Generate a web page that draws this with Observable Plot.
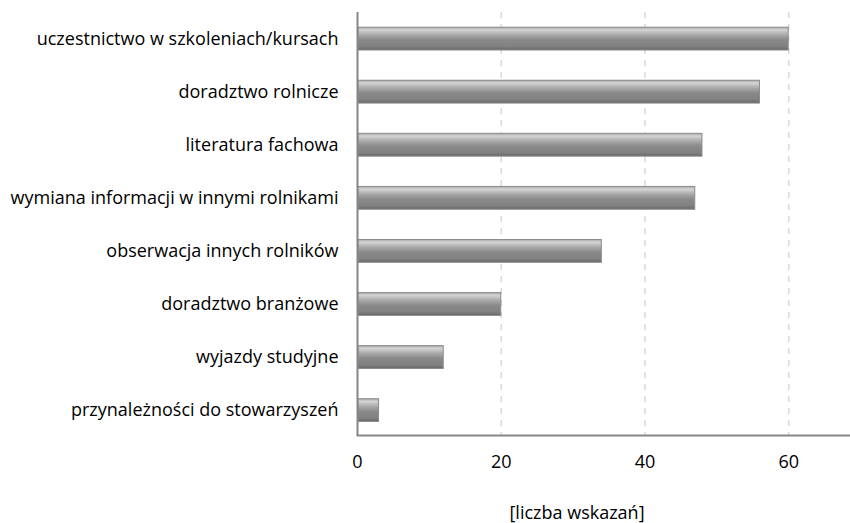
<!DOCTYPE html>
<html>
<head>
<meta charset="utf-8">
<script src="https://cdn.jsdelivr.net/npm/d3@7"></script>
<script src="https://cdn.jsdelivr.net/npm/@observablehq/plot@0.6"></script>
<style>
  html, body { margin: 0; padding: 0; background: #fff; }
  #wrap { position: relative; width: 850px; height: 523px; overflow: hidden; }
  #xlabel { position: absolute; left: 577px; top: 499px; transform: translateX(-50%);
    font-family: "Open Sans", sans-serif; font-size: 18px; line-height: 26px; color: #000; white-space: nowrap; }
</style>
</head>
<body>
<div id="wrap"><div id="xlabel"></div></div>
<script>
const categories = [
  "uczestnictwo w szkoleniach/kursach",
  "doradztwo rolnicze",
  "literatura fachowa",
  "wymiana informacji w innymi rolnikami",
  "obserwacja innych rolników",
  "doradztwo branżowe",
  "wyjazdy studyjne",
  "przynależności do stowarzyszeń"
];
const values = [60, 56, 48, 47, 34, 20, 12, 3];
const xTicks = [0, 20, 40, 60];
const xTitle = "[liczba wskazań]";

const data = categories.map((c, i) => ({category: c, value: values[i]}));

const chart = Plot.plot({
  width: 850,
  height: 523,
  marginTop: 12,
  marginBottom: 88,
  marginLeft: 357,
  marginRight: 0,
  style: {fontFamily: "Open Sans, sans-serif", fontSize: "18px", color: "#000", background: "#fff"},
  x: {domain: [0, 68.6], label: null},
  y: {domain: categories, label: null, round: false, paddingInner: 0.57, paddingOuter: 0.27, align: 0.53},
  marks: [
    Plot.ruleX(xTicks.filter(d => d > 0), {stroke: "#d9d9d9", strokeWidth: 1.5, strokeDasharray: "6,6"}),
    Plot.barX(data, {x: "value", y: "category", fill: "url(#barGrad)", stroke: "#8c8c8c", strokeWidth: 1, insetLeft: 1}),
    Plot.axisX({ticks: xTicks, tickSize: 0, tickPadding: 20, label: null, fontSize: 18, tickFormat: d => String(d)}),
    Plot.axisY({tickSize: 0, tickPadding: 19, label: null, fontSize: 18}),
    Plot.ruleX([0], {stroke: "#868686", strokeWidth: 2}),
    Plot.frame({anchor: "bottom", stroke: "#868686", strokeWidth: 2})
  ]
});

const ns = "http://www.w3.org/2000/svg";
const defs = document.createElementNS(ns, "defs");
defs.innerHTML = `
  <linearGradient id="barGrad" x1="0" y1="0" x2="0" y2="1">
    <stop offset="0" stop-color="#a8a8a8"/>
    <stop offset="0.12" stop-color="#d4d4d4"/>
    <stop offset="0.3" stop-color="#b0b0b0"/>
    <stop offset="0.55" stop-color="#8a8a8a"/>
    <stop offset="0.85" stop-color="#808080"/>
    <stop offset="1" stop-color="#666666"/>
  </linearGradient>`;
chart.insertBefore(defs, chart.firstChild);

document.getElementById("wrap").prepend(chart);
document.getElementById("xlabel").textContent = xTitle;
</script>
</body>
</html>
